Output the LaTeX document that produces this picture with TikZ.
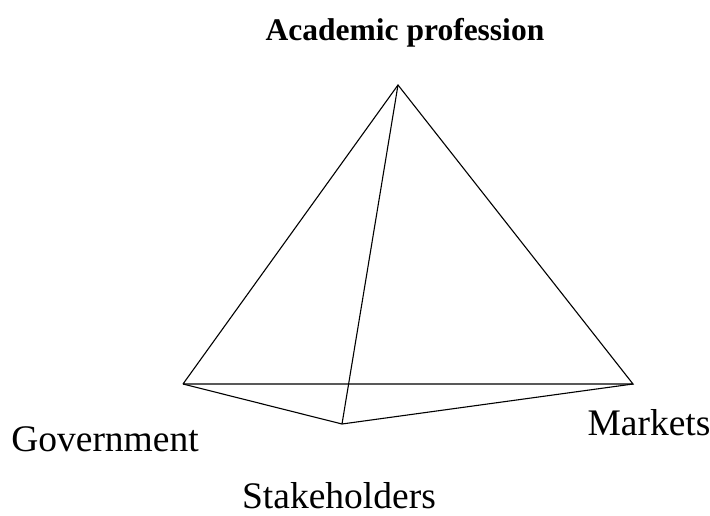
\documentclass[tikz,border=0pt]{standalone}
\usepackage{fontspec}
\setmainfont{Liberation Serif}
\usepackage{tikz}
\usetikzlibrary{positioning}

\tikzset{
    edge/.style={line width=1.1pt, line join=miter},
    corner/.style={font=\fontsize{37.5}{42}\selectfont, anchor=base, inner sep=0pt},
    title/.style={font=\bfseries\fontsize{31.5}{36}\selectfont, anchor=base, inner sep=0pt}
}

\begin{document}
\begin{tikzpicture}[x=1pt, y=-1pt]
        \useasboundingbox (0, 0) rectangle (710, 516);

        % corners of the pyramid
        \coordinate (acad) at (398, 85);
        \coordinate (gov) at (183, 384);
        \coordinate (mkt) at (633, 384);
        \coordinate (stake) at (342, 424);

        \draw[edge] (gov) -- (acad) -- (mkt) -- (gov);
        \draw[edge] (gov) -- (stake) -- (mkt);
        \draw[edge] (acad) -- (stake);

        % labels
        \node[title] (acadlabel) at (405, 41) {Academic profession};
        \node[corner] (govlabel) at (105, 451) {Government};
        \node[corner] (mktlabel) at (649, 435) {Markets};
        \node[corner] (stakelabel) at (339, 508) {Stakeholders};
    \end{tikzpicture}
\end{document}
